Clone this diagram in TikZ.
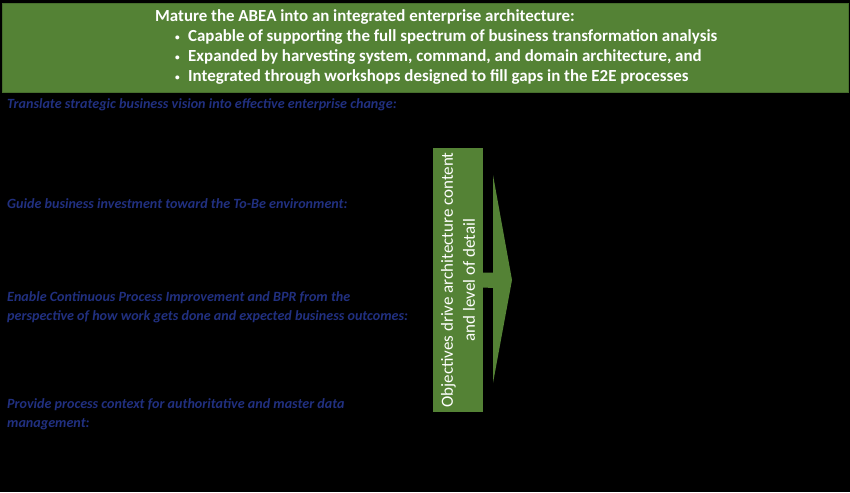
\documentclass[tikz,border=0pt]{standalone}
\usepackage{fontspec}
\setmainfont{Carlito}
\usetikzlibrary{positioning}
\definecolor{abeagreen}{RGB}{84,130,53}
\definecolor{goalblue}{RGB}{33,48,128}

\newcommand{\smallbullet}{\makebox[13pt][l]{\raisebox{1.5pt}{\scalebox{0.55}{\textbullet}}}}

\begin{document}
\begin{tikzpicture}[x=1pt, y=-1pt, node distance=20pt]
                \tikzstyle{banner} = [fill=abeagreen, draw=abeagreen!85!black, line width=0.6pt, inner sep=0pt, minimum width=846pt, minimum height=89pt, anchor=north west]
                \tikzstyle{head} = [anchor=base west, inner sep=0pt, text=white, font=\fontsize{16.9}{20}\selectfont\bfseries]
                \tikzstyle{goal} = [anchor=base west, inner sep=0pt, text=goalblue, align=left, font=\fontsize{14.1}{19}\selectfont\bfseries\itshape]
                \tikzstyle{objective} = [rotate=90, fill=abeagreen, text=white, align=center, inner sep=0pt, minimum width=264pt, minimum height=50pt, font=\fontsize{17}{22}\selectfont]

                % Background
                \fill[black] (0,0) rectangle (850,492);

                % Top banner (green)
                \node[banner] (banner) at (2,3) {};
                \node[head] (title) at (155,22) {Mature the ABEA into an integrated enterprise architecture:};
                \node[head] (b1) [below=20pt of title.base west, xshift=20pt, anchor=base west] {\smallbullet Capable of supporting the full spectrum of business transformation analysis};
                \node[head] (b2) [below=20pt of b1.base west, anchor=base west] {\smallbullet Expanded by harvesting system, command, and domain architecture, and};
                \node[head] (b3) [below=20pt of b2.base west, anchor=base west] {\smallbullet Integrated through workshops designed to fill gaps in the E2E processes};

                % Objectives (left column, blue text; base = last line)
                \node[goal] (g1) at (7,108) {Translate strategic business vision into effective enterprise change:};
                \node[goal] (g2) at (7,208) {Guide business investment toward the To-Be environment:};
                \node[goal] (g3) at (7,320) {Enable Continuous Process Improvement and BPR from the\\perspective of how work gets done and expected business outcomes:};
                \node[goal] (g4) at (7,427) {Provide process context for authoritative and master data\\management:};

                % Arrow (green)
                \node[objective] (drive) at (458,280) {Objectives drive architecture content\\and level of detail};
                \coordinate (tip) at (512,280);
                \fill[abeagreen] ([yshift=7.5pt]drive.south) -- ++(10,0) -- (493,175) -- (tip) -- (493,383) -- (493,288) -- ([yshift=-7.5pt]drive.south) -- cycle;
\end{tikzpicture}
\end{document}
